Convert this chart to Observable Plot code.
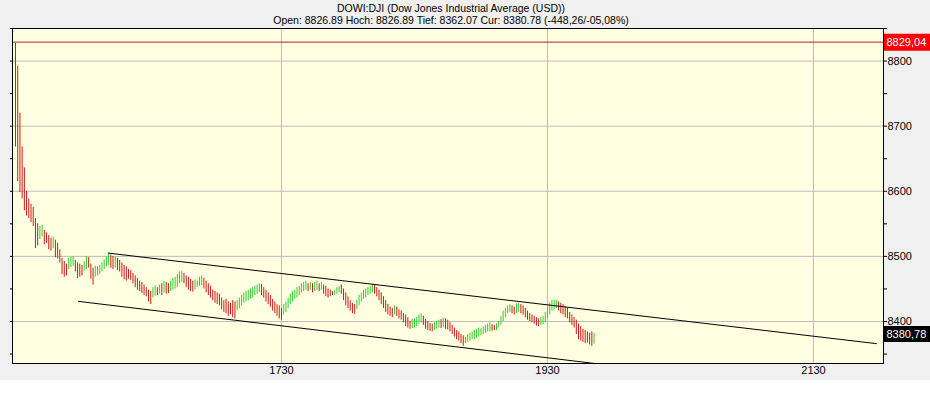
<!DOCTYPE html>
<html>
<head>
<meta charset="utf-8">
<script src="https://cdn.jsdelivr.net/npm/d3@7"></script>
<script src="https://cdn.jsdelivr.net/npm/@observablehq/plot@0.6"></script>
<style>
  body { margin: 0; background: #ffffff; }
  #wrap { width: 930px; background: #f0f0f0; font-family: "Liberation Sans", Arial, sans-serif; }
  #head { height: 27px; text-align: center; font-size: 10.5px; color: #000; padding-right: 28px; box-sizing: border-box; }
  #head div { height: 12px; line-height: 12px; }
  #head .l1 { padding-top: 2px; }
  svg { display: block; }
</style>
</head>
<body>
<div id="wrap">
  <div id="head">
    <div class="l1">DOWI:DJI (Dow Jones Industrial Average (USD))</div>
    <div>Open: 8826.89 Hoch: 8826.89 Tief: 8362.07 Cur: 8380.78 (-448,26/-05,08%)</div>
  </div>
  <div id="chart"></div>
</div>
<script>
// one-minute bars starting 15:30 (minutes since midnight)
const startMinute = 930;
const highs = [
  8827, 8792, 8720, 8668, 8636, 8600, 8588, 8580, 8575, 8558,
  8550, 8546, 8548, 8540, 8536, 8532, 8528, 8530, 8525, 8520,
  8510, 8497, 8492, 8488, 8497, 8499, 8500, 8494, 8490, 8488,
  8486, 8492, 8500, 8498, 8488, 8482, 8485, 8484, 8486, 8490,
  8495, 8500, 8505, 8502, 8500, 8499, 8497, 8494, 8490, 8486,
  8484, 8480, 8478, 8474, 8470, 8466, 8462, 8460, 8456, 8452,
  8448, 8446, 8452, 8455, 8452, 8456, 8458, 8462, 8460, 8458,
  8462, 8466, 8468, 8472, 8476, 8477, 8474, 8470, 8468, 8465,
  8462, 8464, 8462, 8468, 8470, 8466, 8462, 8458, 8454, 8448,
  8446, 8444, 8442, 8436, 8432, 8434, 8430, 8428, 8432, 8430,
  8432, 8436, 8440, 8444, 8446, 8448, 8450, 8452, 8454, 8456,
  8458, 8457, 8452, 8448, 8444, 8440, 8434, 8430, 8426, 8424,
  8420, 8426, 8430, 8436, 8442, 8446, 8448, 8452, 8454, 8458,
  8460, 8462, 8458, 8460, 8458, 8460, 8462, 8458, 8460, 8456,
  8454, 8450, 8448, 8446, 8448, 8452, 8454, 8456, 8450, 8444,
  8438, 8432, 8428, 8426, 8432, 8440, 8444, 8448, 8450, 8452,
  8454, 8457, 8456, 8452, 8448, 8444, 8438, 8432, 8426, 8422,
  8420, 8424, 8422, 8418, 8416, 8412, 8410, 8406, 8400, 8403,
  8404, 8406, 8410, 8412, 8408, 8403, 8400, 8397, 8396, 8398,
  8400, 8402, 8403, 8405, 8404, 8402, 8398, 8394, 8390, 8386,
  8384, 8380, 8378, 8376, 8380, 8382, 8384, 8386, 8388, 8390,
  8389, 8392, 8394, 8396, 8398, 8395, 8394, 8396, 8400, 8408,
  8416, 8420, 8424, 8426, 8424, 8422, 8427, 8428, 8426, 8424,
  8420, 8416, 8412, 8410, 8408, 8406, 8404, 8406, 8408, 8414,
  8422, 8428, 8432, 8433, 8432, 8430, 8428, 8426, 8422, 8420,
  8414, 8410, 8406, 8402, 8396, 8392, 8388, 8386, 8384, 8382,
  8384, 8382
];
const lows = [
  8668, 8615, 8598, 8588, 8570, 8562, 8558, 8552, 8546, 8512,
  8516, 8526, 8530, 8518, 8520, 8510, 8508, 8512, 8498, 8496,
  8490, 8472, 8468, 8470, 8480, 8483, 8485, 8476, 8466, 8468,
  8470, 8478, 8480, 8482, 8465, 8456, 8468, 8470, 8472, 8476,
  8480, 8484, 8486, 8482, 8480, 8482, 8478, 8476, 8468, 8464,
  8462, 8465, 8463, 8458, 8452, 8448, 8446, 8443, 8440, 8438,
  8430, 8426, 8436, 8439, 8440, 8442, 8440, 8444, 8442, 8443,
  8446, 8448, 8450, 8452, 8458, 8460, 8458, 8452, 8448, 8446,
  8445, 8448, 8452, 8454, 8455, 8450, 8444, 8440, 8436, 8432,
  8428, 8426, 8424, 8418, 8414, 8412, 8408, 8410, 8406, 8404,
  8416, 8420, 8424, 8428, 8430, 8432, 8434, 8436, 8440, 8442,
  8444, 8440, 8436, 8430, 8426, 8422, 8416, 8412, 8408, 8404,
  8402, 8410, 8414, 8420, 8426, 8430, 8434, 8436, 8440, 8444,
  8446, 8448, 8446, 8448, 8444, 8446, 8448, 8446, 8448, 8442,
  8438, 8436, 8438, 8440, 8440, 8442, 8444, 8442, 8432, 8424,
  8420, 8416, 8412, 8411, 8418, 8424, 8430, 8434, 8436, 8440,
  8442, 8444, 8442, 8438, 8432, 8426, 8420, 8414, 8410, 8408,
  8406, 8410, 8408, 8404, 8402, 8398, 8392, 8390, 8388, 8389,
  8390, 8392, 8396, 8398, 8394, 8388, 8386, 8385, 8384, 8386,
  8388, 8390, 8389, 8390, 8388, 8387, 8384, 8380, 8376, 8372,
  8370, 8366, 8362, 8366, 8368, 8370, 8372, 8372, 8374, 8376,
  8378, 8380, 8382, 8384, 8384, 8385, 8386, 8386, 8390, 8394,
  8400, 8406, 8412, 8414, 8412, 8410, 8412, 8414, 8412, 8410,
  8406, 8402, 8400, 8398, 8396, 8393, 8392, 8394, 8395, 8398,
  8404, 8410, 8416, 8418, 8420, 8416, 8412, 8410, 8406, 8404,
  8398, 8394, 8390, 8380, 8372, 8370, 8368, 8366, 8367, 8364,
  8362, 8365
];
const prevClose = 8829.04;
const current = 8380.78;
const prevCloseLabel = "8829,04";
const currentLabel = "8380,78";
// trend channel lines: [minute, price]
const upperTrend = [[972, 8505], [1318.4, 8366]];
const lowerTrend = [[958.4, 8430.9], [1196, 8333.6]];
const xTicks = [1050, 1170, 1290];
const yTicks = [8350, 8400, 8450, 8500, 8550, 8600, 8650, 8700, 8750, 8800, 8850];
const yGrid = [8400, 8500, 8600, 8700, 8800];

const bars = highs.map((h, i) => {
  const mid = (h + lows[i]) / 2;
  const prevMid = i > 0 ? (highs[i - 1] + lows[i - 1]) / 2 : Infinity;
  return { t: startMinute + i, high: h, low: lows[i], up: mid > prevMid };
});

const xDomain = [928.65, 1321.58];
const pxPerMin = 871 / (xDomain[1] - xDomain[0]);
const boxX1 = xDomain[1] + 1 / pxPerMin;
const boxX2 = xDomain[1] + 47 / pxPerMin;
const fmtTime = d => String(Math.floor(d / 60)) + String(d % 60).padStart(2, "0");

const chart = Plot.plot({
  width: 930,
  height: 353,
  marginTop: 1,
  marginBottom: 17,
  marginLeft: 12,
  marginRight: 47,
  style: { fontFamily: "Liberation Sans, Arial, sans-serif", fontSize: "11px", background: "transparent", color: "#000" },
  x: { domain: xDomain },
  y: { domain: [8335.5, 8850] },
  marks: [
    Plot.frame({ fill: "#ffffe1", stroke: null }),
    Plot.gridY(yGrid, { stroke: "#bdbdbd", strokeOpacity: 1 }),
    Plot.gridX(xTicks, { stroke: "#bdbdbd", strokeOpacity: 1 }),
    Plot.ruleY([prevClose], { stroke: "#c81e1e", strokeWidth: 1 }),
    Plot.ruleX(bars, { x: "t", y1: "low", y2: "high", stroke: d => d.up ? "#33cc33" : "#cc1a1a", strokeWidth: 1 }),
    Plot.line(upperTrend, { x: d => d[0], y: d => d[1], stroke: "#000", strokeWidth: 1, clip: true }),
    Plot.line(lowerTrend, { x: d => d[0], y: d => d[1], stroke: "#000", strokeWidth: 1, clip: true }),
    Plot.frame({ stroke: "#000" }),
    Plot.axisY(yTicks, { anchor: "left", tickSize: 2, tickFormat: () => "", label: null }),
    Plot.axisY(yTicks, { anchor: "right", tickSize: 3, tickPadding: 1, tickFormat: d => d % 100 === 0 ? String(d) : "", label: null, fontSize: 11 }),
    Plot.axisX(xTicks, { anchor: "bottom", tickSize: 0, tickPadding: 3, tickFormat: fmtTime, label: null, fontSize: 11 }),
    Plot.ruleY([prevClose], { x1: boxX1, x2: boxX2, stroke: "#ff0000", strokeWidth: 17 }),
    Plot.text([prevClose], { x: boxX1, y: d => d, dx: 2, text: () => prevCloseLabel, textAnchor: "start", fill: "#fff", fontSize: 11 }),
    Plot.ruleY([current], { x1: boxX1, x2: boxX2, stroke: "#000", strokeWidth: 16 }),
    Plot.text([current], { x: boxX1, y: d => d, dx: 2, text: () => currentLabel, textAnchor: "start", fill: "#fff", fontSize: 11 })
  ]
});
document.getElementById("chart").appendChild(chart);
</script>
</body>
</html>
